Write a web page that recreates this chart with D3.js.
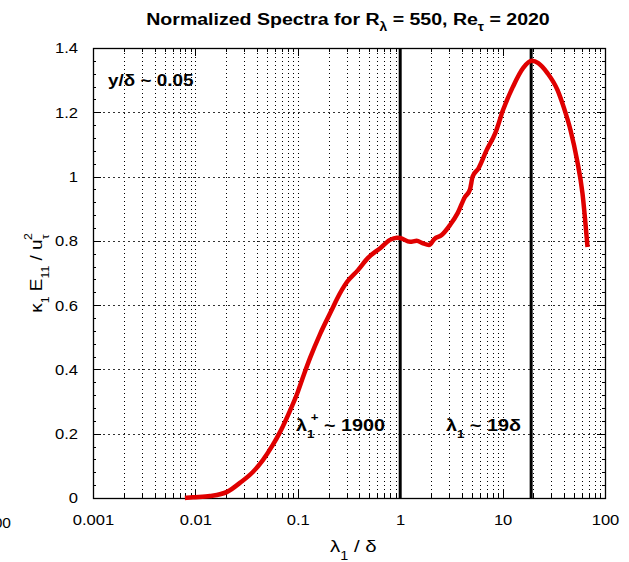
<!DOCTYPE html>
<html>
<head>
<meta charset="utf-8">
<script src="https://cdn.jsdelivr.net/npm/d3@7"></script>
<style>
  body { margin: 0; background: #fff; }
  text { font-family: "Liberation Sans", Arial, Helvetica, sans-serif; fill: #000; }
</style>
</head>
<body>
<div id="chart"></div>
<script>
// spectrum: wavelength lambda_1/delta and k1*E11/u_tau^2
var lambdaVals = [0.0079, 0.0095, 0.0139, 0.0204, 0.0272, 0.0364, 0.0456, 0.057, 0.067, 0.084,
                  0.1, 0.115, 0.1315, 0.165, 0.216, 0.242, 0.302, 0.387, 0.485, 0.642,
                  0.794, 0.93, 1.0, 1.247, 1.45, 1.65, 1.91, 2.16, 2.54, 3.06,
                  3.65, 4.26, 4.8, 5.1, 5.8, 7.0, 8.5, 10.1, 12.6, 15.9,
                  19.3, 22.3, 27.4, 34.4, 39.5, 46.0, 53.3, 60.2, 67.5];
var spectrumVals = [0.0, 0.002, 0.006, 0.019, 0.047, 0.081, 0.118, 0.165, 0.205, 0.272,
                    0.33, 0.385, 0.435, 0.51, 0.587, 0.62, 0.672, 0.709, 0.747, 0.778,
                    0.803, 0.81, 0.809, 0.797, 0.80, 0.793, 0.787, 0.806, 0.818, 0.849,
                    0.887, 0.935, 0.96, 1.0, 1.025, 1.083, 1.136, 1.207, 1.279, 1.338,
                    1.36, 1.353, 1.322, 1.269, 1.216, 1.145, 1.052, 0.949, 0.781];

var xTicks = [0.001, 0.01, 0.1, 1, 10, 100];
var xTickLabels = ["0.001", "0.01", "0.1", "1", "10", "100"];
var yTicks = [0, 0.2, 0.4, 0.6, 0.8, 1, 1.2, 1.4];
var yTickLabels = ["0", "0.2", "0.4", "0.6", "0.8", "1", "1.2", "1.4"];
var markerLines = [1, 19];   // lambda_1^+ ~ 1900 and lambda_1 ~ 19 delta

var W = 629, H = 562;
var margin = {top: 48, right: 24, bottom: 64, left: 93};

var svg = d3.select("#chart").append("svg")
    .attr("width", W)
    .attr("height", H);

var x = d3.scaleLog().domain([0.001, 100]).range([margin.left, W - margin.right]);
var y = d3.scaleLinear().domain([0, 1.4]).range([H - margin.bottom, margin.top]);

var x0 = x.range()[0], x1 = x.range()[1];
var y0 = y.range()[0], y1 = y.range()[1];

// minor x positions (2..9 in every decade)
var minorX = [];
xTicks.slice(0, -1).forEach(function(d) {
    for (var k = 2; k <= 9; k++) minorX.push(d * k);
});

// grid
var grid = svg.append("g")
    .attr("stroke", "#000")
    .attr("stroke-width", 1)
    .attr("shape-rendering", "crispEdges");

grid.selectAll(".vg")
    .data(minorX.concat(xTicks.slice(1, -1)))
    .enter().append("line")
    .attr("stroke-dasharray", "1,3")
    .attr("x1", function(d) { return Math.round(x(d)) + 0.5; })
    .attr("x2", function(d) { return Math.round(x(d)) + 0.5; })
    .attr("y1", y0).attr("y2", y1);

grid.selectAll(".hg")
    .data(yTicks.slice(1, -1))
    .enter().append("line")
    .attr("stroke-dasharray", "2,3")
    .attr("stroke", "#333")
    .attr("y1", function(d) { return Math.round(y(d)) + 0.5; })
    .attr("y2", function(d) { return Math.round(y(d)) + 0.5; })
    .attr("x1", x0).attr("x2", x1);

// ticks on the frame, pointing inwards
var ticks = svg.append("g").attr("stroke", "#000").attr("stroke-width", 1)
    .attr("shape-rendering", "crispEdges");

function xTick(d, len) {
    var px = Math.round(x(d)) + 0.5;
    ticks.append("line").attr("x1", px).attr("x2", px).attr("y1", y0).attr("y2", y0 - len);
    ticks.append("line").attr("x1", px).attr("x2", px).attr("y1", y1).attr("y2", y1 + len);
}
minorX.forEach(function(d) { xTick(d, 4); });
xTicks.forEach(function(d) { xTick(d, 8); });

function yTick(d, len) {
    var py = Math.round(y(d)) + 0.5;
    ticks.append("line").attr("y1", py).attr("y2", py).attr("x1", x0).attr("x2", x0 + len);
    ticks.append("line").attr("y1", py).attr("y2", py).attr("x1", x1).attr("x2", x1 - len);
}
d3.range(0, 1.4001, 0.04).forEach(function(d) { yTick(d, 3); });
yTicks.forEach(function(d) { yTick(d, 8); });

// frame
svg.append("rect")
    .attr("x", x0 + 0.5).attr("y", y1 + 0.5)
    .attr("width", x1 - x0).attr("height", y0 - y1)
    .attr("fill", "none").attr("stroke", "#000").attr("stroke-width", 1.3);

// axis labels via d3 axes, no tick lines
var xAxis = svg.append("g")
    .attr("transform", "translate(0," + y0 + ")")
    .call(d3.axisBottom(x).tickValues(xTicks)
        .tickFormat(function(d, i) { return xTickLabels[i]; })
        .tickSize(0).tickPadding(16));
xAxis.select(".domain").remove();
xAxis.selectAll("text").attr("font-size", 15.5)
    .attr("font-family", "Liberation Sans, Arial, sans-serif")
    .attr("transform", "scale(1.07,1)");

var yAxis = svg.append("g")
    .attr("transform", "translate(" + x0 + ",0)")
    .call(d3.axisLeft(y).tickValues(yTicks)
        .tickFormat(function(d, i) { return yTickLabels[i]; })
        .tickSize(0).tickPadding(14));
yAxis.select(".domain").remove();
yAxis.selectAll("text").attr("font-size", 15.5)
    .attr("font-family", "Liberation Sans, Arial, sans-serif")
    .attr("transform", "scale(1.07,1)");

// clipped label from the neighbouring panel
svg.append("text").attr("x", 11).attr("y", 528).attr("text-anchor", "end")
    .attr("font-size", 15.5).text("100");

// thick markers
svg.selectAll(".marker")
    .data(markerLines)
    .enter().append("line")
    .attr("x1", function(d) { return x(d); })
    .attr("x2", function(d) { return x(d); })
    .attr("y1", y0).attr("y2", y1)
    .attr("stroke", "#000").attr("stroke-width", 3);

// spectrum curve
var pts = lambdaVals.map(function(d, i) { return [d, spectrumVals[i]]; });
var line = d3.line()
    .x(function(d) { return x(d[0]); })
    .y(function(d) { return y(d[1]); })
    .curve(d3.curveMonotoneX);

svg.append("path")
    .datum(pts)
    .attr("d", line)
    .attr("fill", "none")
    .attr("stroke", "#e00000")
    .attr("stroke-width", 4.5)
    .attr("stroke-linejoin", "round");

// title
var title = svg.append("text")
    .attr("transform", "translate(348,25) scale(1.15,1)")
    .attr("text-anchor", "middle")
    .attr("font-size", 17).attr("font-weight", "bold");
title.append("tspan").text("Normalized Spectra for R");
title.append("tspan").attr("dy", 6).attr("font-size", 12).text("λ");
title.append("tspan").attr("dy", -6).text(" = 550, Re");
title.append("tspan").attr("dy", 6).attr("font-size", 12).text("τ");
title.append("tspan").attr("dy", -6).text(" = 2020");

// annotations
svg.append("text").attr("transform", "translate(108,86) scale(1.18,1)")
    .attr("font-size", 16).attr("font-weight", "bold").text("y/δ ~ 0.05");

var a1 = svg.append("text").attr("transform", "translate(296,431) scale(1.2,1)")
    .attr("font-size", 16.5).attr("font-weight", "bold");
a1.append("tspan").text("λ");
a1.append("tspan").attr("dy", 7).attr("font-size", 11).text("1");
a1.append("tspan").attr("dx", -3).attr("dy", -17).attr("font-size", 11).text("+");
a1.append("tspan").attr("dy", 10).text("  ~ 1900");

var a2 = svg.append("text").attr("transform", "translate(446,431) scale(1.2,1)")
    .attr("font-size", 16.5).attr("font-weight", "bold");
a2.append("tspan").text("λ");
a2.append("tspan").attr("dy", 7).attr("font-size", 11).text("1");
a2.append("tspan").attr("dy", -7).text(" ~ 19δ");

// x label
var xl = svg.append("text").attr("transform", "translate(330,552) scale(1.2,1)")
    .attr("font-size", 17);
xl.append("tspan").text("λ");
xl.append("tspan").attr("dy", 8).attr("font-size", 12).text("1");
xl.append("tspan").attr("dy", -8).text(" / δ");

// y label
var yl = svg.append("text")
    .attr("transform", "translate(42,273) rotate(-90) scale(1.12,1)")
    .attr("text-anchor", "middle")
    .attr("font-size", 17);
yl.append("tspan").text("κ");
yl.append("tspan").attr("dy", 7).attr("font-size", 11).text("1");
yl.append("tspan").attr("dy", -7).text(" E");
yl.append("tspan").attr("dy", 7).attr("font-size", 11).text("11");
yl.append("tspan").attr("dy", -7).text(" / u");
yl.append("tspan").attr("dy", 7).attr("font-size", 11).text("τ");
yl.append("tspan").attr("dx", -5).attr("dy", -17).attr("font-size", 11).text("2");
</script>
</body>
</html>
